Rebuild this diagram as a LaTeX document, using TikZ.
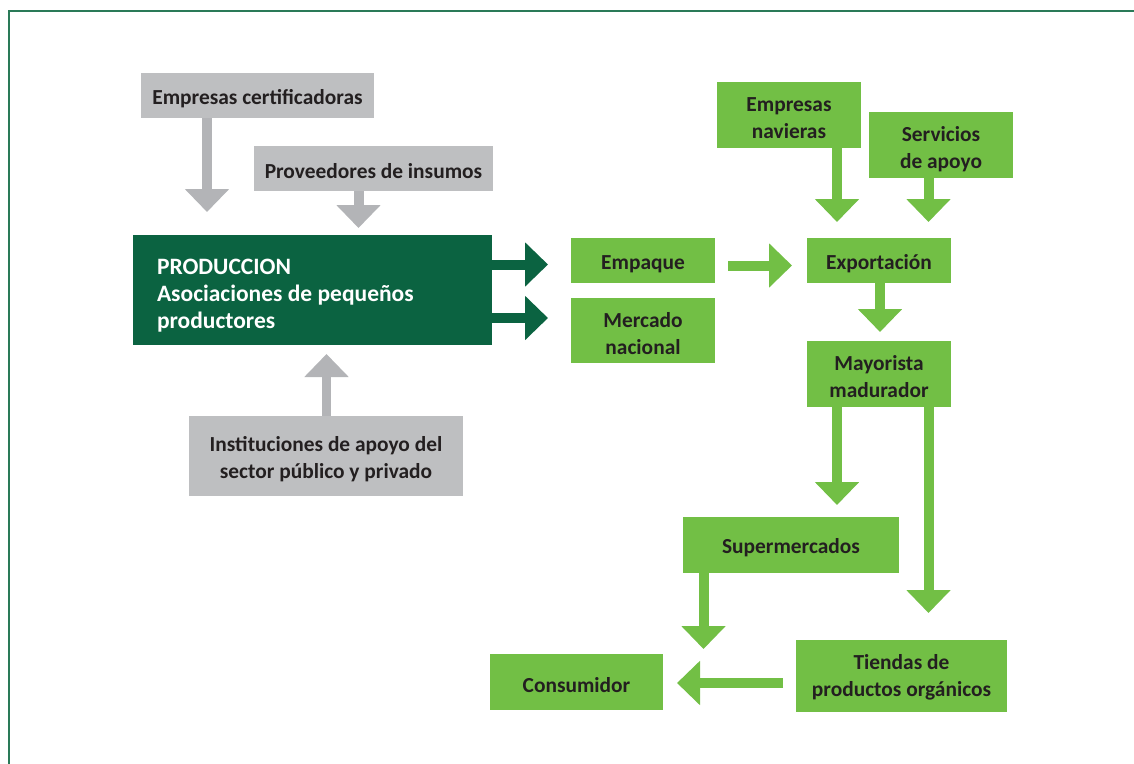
\documentclass[tikz,border=0pt]{standalone}
\usepackage{fontspec}
\setmainfont{Carlito}
\usetikzlibrary{arrows.meta}
\definecolor{dgreen}{HTML}{0B6341}
\definecolor{lgreen}{HTML}{72BF45}
\definecolor{gbox}{HTML}{BEBFC1}
\definecolor{garr}{HTML}{B3B4B7}
\definecolor{txt}{HTML}{231F20}
\definecolor{frame}{HTML}{2A7A58}
\newcommand{\mystrut}[1]{\rule{0pt}{#1}}
\newcommand{\ms}{\mystrut{21pt}}
\tikzset{
  base/.style={inner sep=0pt, align=center, font=\fontsize{21.4}{27}\selectfont\bfseries, text=txt,
    execute at begin node={\mystrut{21pt}}},
  graybox/.style={base, fill=gbox},
  greenbox/.style={base, fill=lgreen},
  prodbox/.style={base, fill=dgreen, text=white, align=flush left, font=\fontsize{23.5}{27}\selectfont\bfseries,
    execute at begin node={\mystrut{26pt}}},
  arr/.style={line width=10pt, -{Triangle[width=43pt,length=23pt]}},
  grayarr/.style={arr, draw=garr},
  greenarr/.style={arr, draw=lgreen},
  darkarr/.style={arr, draw=dgreen},
}
\begin{document}
\begin{tikzpicture}[x=1pt,y=-1pt]
\useasboundingbox (0,0) rectangle (1134,763);
\draw[frame, line width=2pt] (9,11) rectangle (1150,780);

% nodes
\node[graybox, minimum width=233pt, minimum height=45pt] (cert) at (257.5,95.5) {Empresas certificadoras};
\node[graybox, minimum width=239pt, minimum height=45pt] (prov) at (373.5,168.5) {Proveedores de insumos};
\node[prodbox, minimum width=359pt, minimum height=110pt, text width=311pt, inner xsep=24pt] (prod) at (312.5,290) {PRODUCCION\\Asociaciones de pequeños\\productores};
\node[graybox, minimum width=274pt, minimum height=80pt] (inst) at (326,456) {\ms Instituciones de apoyo del\\sector público y privado};

\node[greenbox, minimum width=144pt, minimum height=45pt] (emp) at (643,260.5) {Empaque};
\node[greenbox, minimum width=144pt, minimum height=65pt] (merc) at (643,330.5) {\ms Mercado\\nacional};
\node[greenbox, minimum width=144pt, minimum height=45pt] (exp) at (879,260.5) {Exportación};
\node[greenbox, minimum width=144pt, minimum height=66pt] (nav) at (789,115) {\ms Empresas\\navieras};
\node[greenbox, minimum width=144pt, minimum height=66pt] (serv) at (941,145) {\mystrut{23pt}Servicios\\de apoyo};
\node[greenbox, minimum width=144pt, minimum height=66pt] (may) at (879,374) {\ms Mayorista\\madurador};
\node[greenbox, minimum width=216pt, minimum height=56pt] (sup) at (791,545) {Supermercados};
\node[greenbox, minimum width=211pt, minimum height=72pt] (tien) at (901.5,676) {\mystrut{18pt}Tiendas de\\productos orgánicos};
\node[greenbox, minimum width=173pt, minimum height=56pt] (cons) at (576.5,682) {Consumidor};

% arrow tips
\coordinate (t1) at (207,212);
\coordinate (t2) at (358.5,228);
\coordinate (t3) at (326.5,354);
\coordinate (t4) at (548,264.5);
\coordinate (t5) at (548,318);
\coordinate (t6) at (792,265.5);
\coordinate (t7) at (837,222);
\coordinate (t8) at (928.5,222);
\coordinate (t9) at (880,332);
\coordinate (t10) at (837,505);
\coordinate (t11) at (928.5,613);
\coordinate (t12) at (703.5,649);
\coordinate (t13) at (677,683);
\coordinate (s6) at (728,265.5);
\coordinate (s13) at (783,683);

\draw[grayarr] (t1 |- cert.south) -- (t1);
\draw[grayarr] (t2 |- prov.south) -- (t2);
\draw[grayarr, line width=9pt] (t3 |- inst.north) -- (t3);
\draw[darkarr] (t4 -| prod.east) -- (t4);
\draw[darkarr] (t5 -| prod.east) -- (t5);
\draw[greenarr] (s6) -- (t6);
\draw[greenarr] (t7 |- nav.south) -- (t7);
\draw[greenarr] (t8 |- serv.south) -- (t8);
\draw[greenarr] (t9 |- exp.south) -- (t9);
\draw[greenarr] (t10 |- may.south) -- (t10);
\draw[greenarr] (t11 |- may.south) -- (t11);
\draw[greenarr] (t12 |- sup.south) -- (t12);
\draw[greenarr] (s13) -- (t13);
\end{tikzpicture}
\end{document}
